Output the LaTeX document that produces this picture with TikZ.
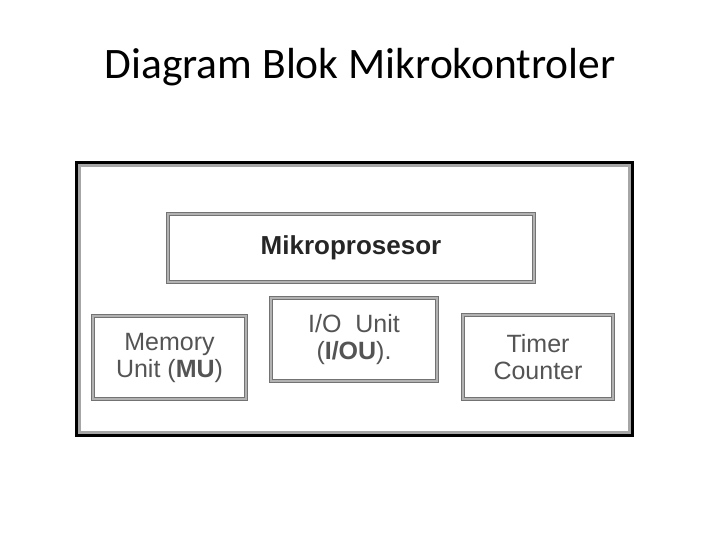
\documentclass[tikz,border=0pt]{standalone}
\usepackage{fontspec}
\setmainfont{Liberation Sans}
\newfontfamily\judulfont{Carlito}
\usetikzlibrary{calc}
\definecolor{BlokClr}{rgb}{0.45,0.45,0.45}
\definecolor{TeksClr}{rgb}{0.33,0.33,0.33}

\begin{document}
\begin{tikzpicture}[x=1pt,y=-1pt,
  blok/.style={draw=BlokClr,double=black!30,double distance=2pt,line width=1pt,
    fill=white,align=center,inner sep=0pt,text=TeksClr,
    font=\fontsize{25}{27}\selectfont},
  bingkai/.style={draw=black,line width=3pt,inner sep=0pt}]
\useasboundingbox (0,0) rectangle (720,540);

\node[font=\fontsize{43.5}{46}\selectfont\judulfont,anchor=base] (judul) at (360,79) {Diagram Blok Mikrokontroler};

\node[bingkai,minimum width=556pt,minimum height=272pt] (mcu) at (354,299) {};
\draw[black!35,line width=3pt] ($(mcu.north west)+(4.5,4.5)$) rectangle ($(mcu.south east)+(-4.5,-4.5)$);

\node[blok,minimum width=366pt,minimum height=67pt,text=black!85,
  font=\fontsize{26}{28}\selectfont\bfseries] (mp) at (351,248) {Mikroprosesor};
\node[blok,minimum width=153pt,minimum height=83pt] (mu) at (169.5,357.5) {Memory\\Unit (\textbf{MU})};
\node[blok,minimum width=166pt,minimum height=83pt] (iou) at (354,339.5) {I/O\ \ Unit\\(\textbf{I/OU}).};
\node[blok,minimum width=150pt,minimum height=84pt] (tc) at (538,357) {Timer\\Counter};

\end{tikzpicture}
\end{document}
